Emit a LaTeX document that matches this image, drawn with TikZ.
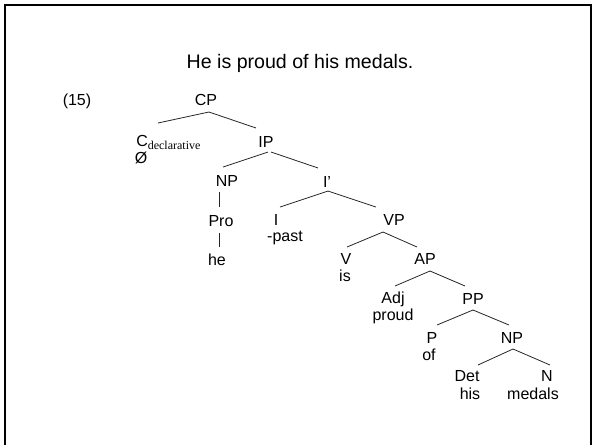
\documentclass[tikz,border=0pt]{standalone}
\usepackage{fontspec}
\setmainfont{Liberation Sans}
\newfontfamily\subserif{Liberation Serif}
\usetikzlibrary{calc}
\begin{document}
\begin{tikzpicture}[x=0.75pt,y=-0.75pt,
  lab/.style={inner sep=0pt,font=\fontsize{12}{12}\selectfont},
  edge/.style={line width=0.6pt,black!85}]
\useasboundingbox (0,0) rectangle (594,444);
% frame
\draw[line width=2pt] (4,5) -- (592,5);
\draw[line width=2pt] (5,4) -- (5,446);
\draw[line width=0.8pt] (591,5) -- (591,446);
% title
\node[inner sep=0pt,font=\fontsize{14.7}{14.7}\selectfont] (title) at (300,63) {He is proud of his medals.};
\node[lab] (n15) at (77,101) {(15)};
% tree nodes
\node[lab] (cp) at (206,100) {CP};
\node[lab,anchor=west] (c) at (136,142) {C\raisebox{-0.35ex}{\subserif\fontsize{9}{9}\selectfont declarative}};
\node[lab] (zero) at (141,158) {Ø};
\node[lab] (ip) at (266,142) {IP};
\node[lab] (np1) at (227,181) {NP};
\node[lab] (ibar) at (327,182) {I’};
\node[lab] (pro) at (221,221) {Pro};
\node[lab] (i) at (276,220) {I};
\node[lab] (past) at (285,238) {-past};
\node[lab] (vp) at (394,220) {VP};
\node[lab] (he) at (217,260) {he};
\node[lab] (v) at (346,259) {V};
\node[lab] (is) at (345,276) {is};
\node[lab] (ap) at (425,259) {AP};
\node[lab] (adj) at (393,299) {Adj};
\node[lab] (proud) at (393,316) {proud};
\node[lab] (pp) at (473,299) {PP};
\node[lab] (p) at (432,338) {P};
\node[lab] (of) at (429,355) {of};
\node[lab] (np2) at (512,338) {NP};
\node[lab] (det) at (467,376) {Det};
\node[lab] (his) at (470,394) {his};
\node[lab] (n) at (547,376) {N};
\node[lab] (medals) at (533,394) {medals};
% connectors
\draw[edge] ($(cp)+(3,12)$) -- ($(c.west)+(22,-19)$);
\draw[edge] ($(cp)+(3,12)$) -- ($(ip)+(-10,-14)$);
\draw[edge] ($(ip)+(2,10)$) -- ($(np1)+(-4,-14)$);
\draw[edge] ($(ip)+(5,10)$) -- ($(ibar)+(-9,-14)$);
\draw[edge] ($(np1)+(-8,11)$) -- ($(pro)+(-2,-14)$);
\draw[edge] ($(pro)+(-2,12)$) -- ($(he)+(2,-13)$);
\draw[edge] ($(ibar)+(1,9)$) -- ($(i)+(4,-13)$);
\draw[edge] ($(ibar)+(1,9)$) -- ($(vp)+(-18,-13)$);
\draw[edge] ($(vp)+(-11,12)$) -- ($(v)+(1,-12)$);
\draw[edge] ($(vp)+(-11,12)$) -- ($(ap)+(-8,-12)$);
\draw[edge] ($(ap)+(5,12)$) -- ($(adj)+(2,-13)$);
\draw[edge] ($(ap)+(5,12)$) -- ($(pp)+(-8,-13)$);
\draw[edge] ($(pp)+(0,11)$) -- ($(p)+(5,-13)$);
\draw[edge] ($(pp)+(0,11)$) -- ($(np2)+(-3,-13)$);
\draw[edge] ($(np2)+(1,11)$) -- ($(det)+(11,-11)$);
\draw[edge] ($(np2)+(1,11)$) -- ($(n)+(3,-11)$);
\end{tikzpicture}
\end{document}
